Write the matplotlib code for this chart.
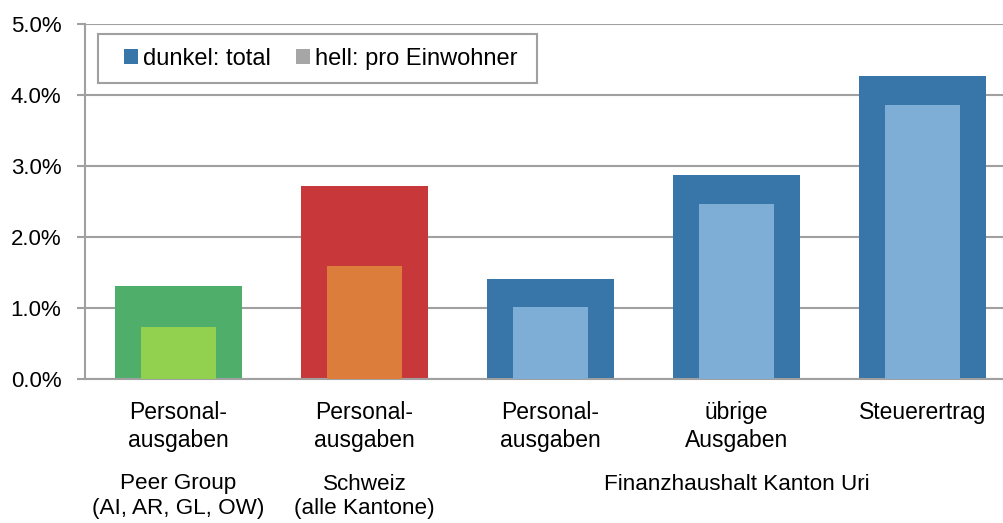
import matplotlib
matplotlib.use("Agg")
import matplotlib.pyplot as plt
import matplotlib.transforms as mtransforms
from matplotlib.patches import Patch, Rectangle
from matplotlib.ticker import FuncFormatter

plt.rcParams['font.family'] = ['Liberation Sans', 'DejaVu Sans']

categories = ["Personal-\nausgaben", "Personal-\nausgaben", "Personal-\nausgaben",
              "übrige\nAusgaben", "Steuerertrag"]
total = [1.31, 2.72, 1.41, 2.87, 4.27]
pro_einwohner = [0.73, 1.59, 1.01, 2.46, 3.86]
dark_colors = ["#4faf6a", "#c8373a", "#3875a8", "#3875a8", "#3875a8"]
light_colors = ["#92d050", "#dc7d3c", "#7eaed5", "#7eaed5", "#7eaed5"]
groups = [("Peer Group\n(AI, AR, GL, OW)", 0), ("Schweiz\n(alle Kantone)", 1),
          ("Finanzhaushalt Kanton Uri", 3)]
legend_labels = ["dunkel: total", "hell: pro Einwohner"]
legend_colors = ["#3875a8", "#a6a6a6"]

W, H = 1004, 523
fig = plt.figure(figsize=(W/100, H/100), dpi=100)
ax = fig.add_axes([85.5/W, 1-379/H, 930/W, (379-24)/H])

x = list(range(len(categories)))
ax.bar(x, total, width=0.683, color=dark_colors, zorder=2)
ax.bar(x, pro_einwohner, width=0.403, color=light_colors, zorder=3)

ax.set_xlim(-0.5, len(categories) - 0.5)
ax.set_ylim(0, 5)
ax.set_yticks([0, 1, 2, 3, 4, 5])
ax.yaxis.set_major_formatter(FuncFormatter(lambda v, p: f"{v:.1f}%"))
ax.grid(axis='y', color='#a0a0a0', linewidth=1.5, zorder=0)
ax.set_axisbelow(True)
for s in ['top', 'right']:
    ax.spines[s].set_visible(False)
for s in ['left', 'bottom']:
    ax.spines[s].set_color('#a0a0a0')
    ax.spines[s].set_linewidth(1.5)
ax.tick_params(axis='y', length=5.8, color='#a0a0a0', width=1.5, labelsize=16, pad=11.5)
ax.tick_params(axis='x', length=0, labelsize=16.5, pad=16)
ax.set_xticks(x)
ax.set_xticklabels(categories, linespacing=1.28, va='top')

trans = mtransforms.blended_transform_factory(ax.transData, fig.transFigure)
for label, pos in groups:
    ax.text(pos, 1 - 473.5/H, label, transform=trans, ha='center', va='top',
            fontsize=16.2, linespacing=1.2)

# legend frame
ax.add_patch(Rectangle((98/W, 1-83/H), (537-98)/W, (83-34)/H,
                       transform=fig.transFigure, facecolor='white',
                       edgecolor='#a0a0a0', linewidth=1.5, zorder=4, clip_on=False))
handles = [Patch(facecolor=c, edgecolor='none') for c in legend_colors]
leg = ax.legend(handles, legend_labels, loc='center left',
                bbox_to_anchor=(124/W, 1-59/H), bbox_transform=fig.transFigure,
                ncol=2, fontsize=17, frameon=False,
                handlelength=0.6, handleheight=0.6, handletextpad=0.21,
                columnspacing=1.06, borderpad=0, borderaxespad=0)
leg.set_zorder(5)

fig.savefig("out.png", dpi=100)
